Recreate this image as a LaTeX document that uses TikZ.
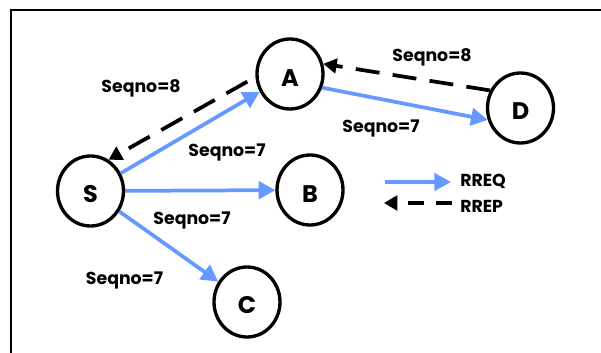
\documentclass[tikz,border=0pt]{standalone}
\usepackage{fontspec}
\setmainfont{Poppins}
\usetikzlibrary{arrows.meta,shapes.geometric}
\definecolor{reqblue}{RGB}{102,153,255}
\tikzset{
 station/.style={ellipse, draw=black, line width=2.5pt, minimum width=49.5pt, minimum height=52.5pt, inner sep=0pt},
 letter/.style={font=\fontsize{18}{20}\selectfont\bfseries, inner sep=0pt},
 lbl/.style={font=\fontsize{13}{15}\selectfont\bfseries, inner sep=0pt, anchor=base},
 rreq/.style={draw=reqblue, line width=2.8pt, -{Triangle[length=12.5pt,width=13pt]}},
 rrep/.style={draw=black, line width=2.8pt, dash pattern=on 18pt off 10pt, -{Triangle[length=10pt,width=11pt]}},
}
\begin{document}
\begin{tikzpicture}[x=0.75pt,y=-0.75pt]
\useasboundingbox (0,0) rectangle (601,353);
\draw[line width=1.5pt] (601,10) -- (11,10) -- (11,353);

\node[station] (S) at (90.5,191) {};
\node[station] (A) at (290,74) {};
\node[station] (B) at (310,190) {};
\node[station] (C) at (247,302) {};
\node[station] (D) at (520.5,108) {};
\node[letter] (lS) at (90.5,194) {S};
\node[letter] (lA) at (290,78) {A};
\node[letter] (lB) at (310,194) {B};
\node[letter] (lC) at (247,305) {C};
\node[letter] (lD) at (520.5,111) {D};

\draw[rreq] (S) -- (A);
\draw[rreq] (S) -- (B);
\draw[rreq] (S) -- (C);
\draw[rreq] (A.-23) -- (D.200);
\draw[rrep, shorten <=7pt] (A.185) -- (S.60);
\draw[rrep] (D.150) -- (A.17);

\node[lbl] (l1) at (141,93) {Seqno=8};
\node[lbl] (l2) at (432,62) {Seqno=8};
\node[lbl] (l3) at (381,133) {Seqno=7};
\node[lbl] (l4) at (227,157) {Seqno=7};
\node[lbl] (l5) at (192,225) {Seqno=7};
\node[lbl] (l6) at (124.5,285) {Seqno=7};

\coordinate (q1) at (385,182);
\coordinate (q2) at (451,182);
\coordinate (p1) at (452,203);
\coordinate (p2) at (384,203);
\draw[rreq] (q1) -- (q2);
\draw[rrep, dash pattern=on 12pt off 9pt] (p1) -- (p2);
\node[lbl, anchor=base west] (lq) at (460,187) {RREQ};
\node[lbl, anchor=base west] (lp) at (460,213) {RREP};
\end{tikzpicture}
\end{document}
